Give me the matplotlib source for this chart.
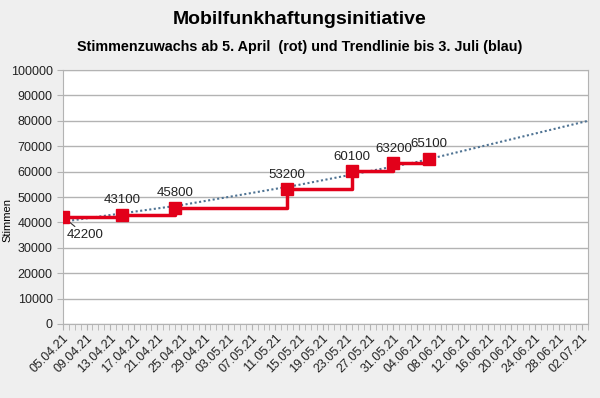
import numpy as np
import pandas as pd
import matplotlib
matplotlib.use("Agg")
import matplotlib.pyplot as plt
import matplotlib.dates as mdates

plt.rcParams['font.family'] = ['Liberation Sans', 'DejaVu Sans']

# Stimmen at each count date
dates = pd.to_datetime(['2021-04-05', '2021-04-15', '2021-04-24', '2021-05-13',
                        '2021-05-24', '2021-05-31', '2021-06-06'])
votes = [42200, 43100, 45800, 53200, 60100, 63200, 65100]

# trend line
trend_dates = pd.to_datetime(['2021-04-05', '2021-04-25', '2021-05-15',
                              '2021-06-04', '2021-07-03'])
trend_vals = [40300, 46800, 54800, 63800, 80000]

x_start = pd.Timestamp('2021-04-05')
x_end = pd.Timestamp('2021-07-03')

red = '#e2001a'
grey = '#b3b3b3'

fig = plt.figure(figsize=(6, 3.98), dpi=100, facecolor='#efefef')
ax = fig.add_axes([0.105, 0.186, 0.875, 0.638])
ax.set_facecolor('white')

ax.plot(trend_dates, trend_vals, color='#4f7393', linestyle=(0, (1, 1.2)),
        linewidth=1.5, zorder=2)
ax.step(dates, votes, where='post', color=red, linewidth=2.5, zorder=3)
ax.plot(dates, votes, linestyle='none', marker='s', markersize=8.5,
        color=red, zorder=4)

# data labels
for i, (d, v) in enumerate(zip(dates, votes)):
    if i == 0:
        ax.annotate(f'{v}', xy=(d, v), xytext=(3, -9), textcoords='offset points',
                    ha='left', va='top', fontsize=9.5, color='#222222',
                    arrowprops=dict(arrowstyle='-', color='#333333', lw=0.8,
                                    shrinkA=0, shrinkB=4))
    else:
        ax.annotate(f'{v}', xy=(d, v), xytext=(0, 6), textcoords='offset points',
                    ha='center', va='bottom', fontsize=9.5, color='#222222')

ax.set_xlim(x_start, x_end)
ax.set_ylim(0, 100000)
ax.set_yticks(np.arange(0, 100001, 10000))
ax.yaxis.grid(True, color=grey, linewidth=1)
ax.set_axisbelow(True)

ax.xaxis.set_minor_locator(mdates.DayLocator())
ax.set_xticks(pd.date_range(x_start, '2021-07-02', freq='4D'))
ax.xaxis.set_major_formatter(mdates.DateFormatter('%d.%m.%y'))
plt.setp(ax.get_xticklabels(), rotation=45, ha='right', rotation_mode='anchor')

ax.tick_params(axis='x', which='both', length=4, color=grey, labelsize=9,
               labelcolor='#222222', pad=2)
ax.tick_params(axis='y', length=4, color=grey, labelsize=9, labelcolor='#222222')

for s in ax.spines.values():
    s.set_color(grey)

ax.set_ylabel('Stimmen', fontsize=8)
ax.yaxis.set_label_coords(-0.097, 0.41)

fig.text(0.5, 0.952, 'Mobilfunkhaftungsinitiative', ha='center', va='center',
         fontsize=14, fontweight='bold')
fig.text(0.5, 0.882, 'Stimmenzuwachs ab 5. April  (rot) und Trendlinie bis 3. Juli (blau)',
         ha='center', va='center', fontsize=10.4, fontweight='bold')

fig.savefig('out.png', dpi=100, facecolor=fig.get_facecolor())
